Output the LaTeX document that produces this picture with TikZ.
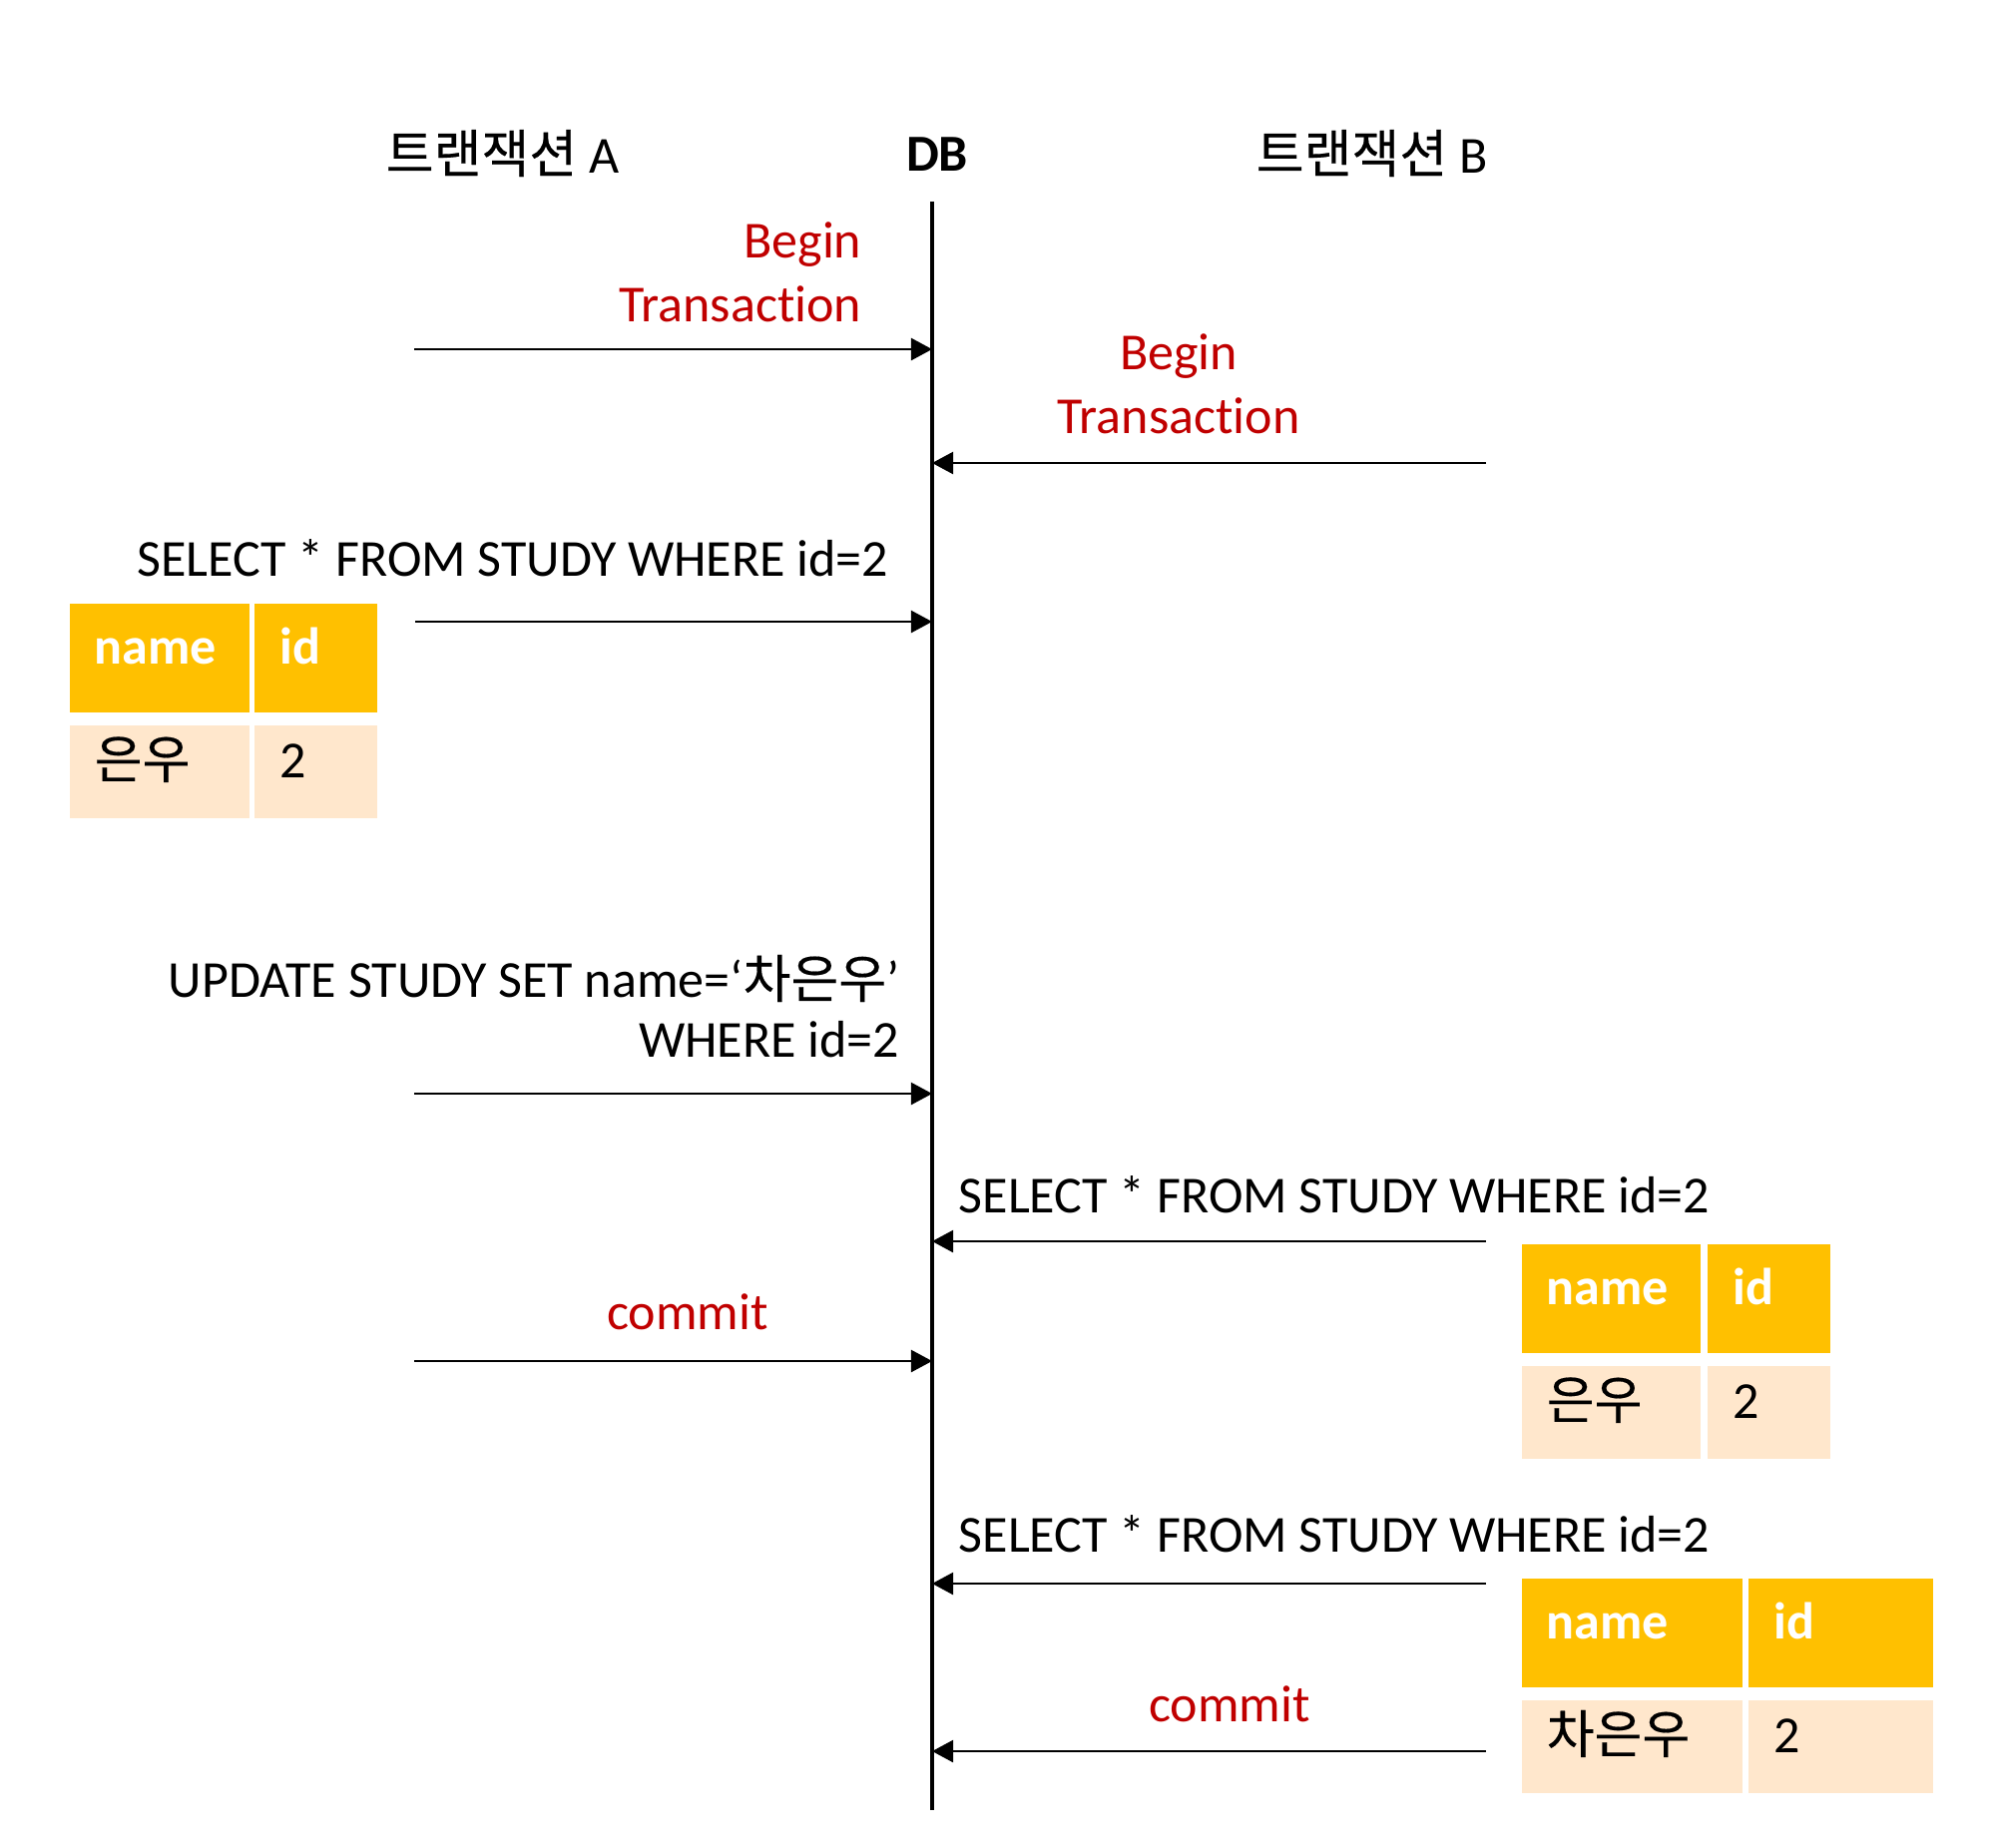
\documentclass[tikz,border=0pt]{standalone}
\usepackage{fontspec}
\setmainfont{Carlito}[Ligatures=CommonOff]
\newfontfamily\kr{Noto Sans CJK KR}[FakeBold=0.3]
\usetikzlibrary{arrows.meta,positioning}
\definecolor{txred}{HTML}{C00000}
\definecolor{hdrgold}{HTML}{FFC000}
\definecolor{rowpeach}{HTML}{FFE7CC}

\begin{document}
\begin{tikzpicture}[
  x=0.01cm, y=-0.01cm,
  font=\fontsize{14.8pt}{18.2pt}\selectfont,
  msg/.style={-{Triangle[length=6pt,width=6.3pt]}, line width=0.6pt},
  lifeline/.style={line width=1.4pt},
  txt/.style={inner sep=0pt},
  cell/.style={inner xsep=0.25cm, inner ysep=0pt, text height=9pt, text depth=5.5pt, align=left},
  head/.style={cell, fill=hdrgold, text=white, minimum height=1.09cm,
    font=\fontsize{14.8pt}{18.2pt}\selectfont\bfseries},
  body/.style={cell, fill=rowpeach, minimum height=0.93cm}
]
\useasboundingbox (0,0) rectangle (2000,1851);

% Titles
\node[txt, anchor=base west] (titleA) at (386,173) {{\kr 트랜잭션} A};
\node[txt, anchor=base, font=\fontsize{14.8pt}{18.2pt}\selectfont\bfseries] (db) at (939,171) {DB};
\node[txt, anchor=base west] (titleB) at (1258,173) {{\kr 트랜잭션} B};

% DB lifeline ends
\coordinate (dbtop) at (934,202);
\coordinate (dbbot) at (934,1814);

% Free ends of the messages
\coordinate (a1) at (415,350);
\coordinate (b1) at (1489,464);
\coordinate (a2) at (416,623);
\coordinate (a3) at (415,1096);
\coordinate (b2) at (1489,1244);
\coordinate (a4) at (415,1364);
\coordinate (b3) at (1489,1587);
\coordinate (b4) at (1489,1755);

% Message labels (base = last line)
\node[txt, anchor=base east, align=right, text=txred] (beginA) at (864,322) {Begin\\Transaction};
\node[txt, anchor=base, align=center, text=txred] (beginB) at (1181,434) {Begin\\Transaction};
\node[txt, anchor=base west] (selA) at (137,577) {SELECT * FROM STUDY WHERE id=2};
\node[txt, anchor=base east, align=right, font=\fontsize{14.8pt}{16.8pt}\selectfont] (updA) at (902,1059)
  {UPDATE STUDY SET name=‘{\kr 차은우}’\\WHERE id=2};
\node[txt, anchor=base west] (selB1) at (960,1215) {SELECT * FROM STUDY WHERE id=2};
\node[txt, anchor=base, text=txred] (comA) at (689,1332) {commit};
\node[txt, anchor=base west] (selB2) at (960,1555) {SELECT * FROM STUDY WHERE id=2};
\node[txt, anchor=base, text=txred] (comB) at (1232,1725) {commit};

% Messages to DB
\draw[msg] (a1) -- (a1 -| dbtop);
\draw[msg] (b1) -- (b1 -| dbtop);
\draw[msg] (a2) -- (a2 -| dbtop);
\draw[msg] (a3) -- (a3 -| dbtop);
\draw[msg] (b2) -- (b2 -| dbtop);
\draw[msg] (a4) -- (a4 -| dbtop);
\draw[msg] (b3) -- (b3 -| dbtop);
\draw[msg] (b4) -- (b4 -| dbtop);

\draw[lifeline] (dbtop) -- (dbbot);

% Result of A's select
\node[head, anchor=north west, text width=1.3cm] (tA-name) at (69,604) {name};
\node[head, text width=0.73cm, right=0.04cm of tA-name] (tA-id) {id};
\node[body, text width=1.3cm, below=0.12cm of tA-name] (tA-val) {{\kr 은우}};
\node[body, text width=0.73cm, below=0.12cm of tA-id] (tA-num) {2};

% Result of B's first select
\node[head, anchor=north west, text width=1.29cm] (tB1-name) at (1524,1246) {name};
\node[head, text width=0.73cm, right=0.06cm of tB1-name] (tB1-id) {id};
\node[body, text width=1.29cm, below=0.12cm of tB1-name] (tB1-val) {{\kr 은우}};
\node[body, text width=0.73cm, below=0.12cm of tB1-id] (tB1-num) {2};

% Result of B's second select
\node[head, anchor=north west, text width=1.71cm] (tB2-name) at (1524,1581) {name};
\node[head, text width=1.35cm, right=0.05cm of tB2-name] (tB2-id) {id};
\node[body, text width=1.71cm, below=0.12cm of tB2-name] (tB2-val) {{\kr 차은우}};
\node[body, text width=1.35cm, below=0.12cm of tB2-id] (tB2-num) {2};
\end{tikzpicture}
\end{document}
